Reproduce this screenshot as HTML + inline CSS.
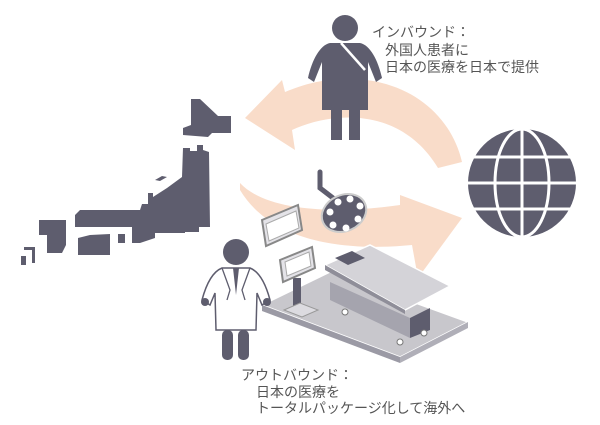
<!DOCTYPE html>
<html><head><meta charset="utf-8"><style>
html,body{margin:0;padding:0;background:#fff;}
.t{font-family:"Liberation Sans","Noto Sans CJK JP",sans-serif;font-size:14px;fill:#555;}
</style></head><body>
<svg width="600" height="420" viewBox="0 0 600 420" xmlns="http://www.w3.org/2000/svg">
<!-- arrows -->
<path d="M462,162 C450,110 400,72 330,80 C310,82 295,88 285,92 L282,80 L245,118 L295,150 L292,130 C330,112 400,105 438,168 Z" fill="#f9dcc9"/>
<path d="M240,183 C265,210 330,215 400,205 L400,195 L462,218 L418,278 L412,245 C340,252 270,240 240,190 Z" fill="#f9dcc9"/>
<!-- Japan -->
<g fill="#5e5d6e">
<polygon points="191,99 200,99 218,116 231,116 231,133 212,133 208,137 183,135 183,128 191,125"/>
<polygon points="183,148 190,148 190,151 197,151 197,145 203,145 203,150 209,152 210,227 199,227 199,232 185,232 185,233 155,233 155,238 140,243 132,243 132,227 75,227 75,215 80,210 140,210 142,204 148,204 148,193 153,193 153,197 167,188 182,177"/>
<polygon points="155,180 162,176 167,177 160,181"/>
<polygon points="39,220 66,220 66,245 62,253 47,253 47,235 39,235"/>
<polygon points="78,238 90,235 110,234 110,255 78,255"/>
<rect x="118" y="234" width="7" height="9"/>
<polygon points="24,247 35,247 35,263 32,263 32,250 24,250"/>
<rect x="21" y="256" width="5" height="9"/>
</g>
<!-- woman -->
<g fill="#5e5d6e">
<circle cx="345" cy="28" r="13"/>
<path d="M330,43 L360,43 C370,45 378,60 382,78 L376,82 L368,62 L368,110 L360,110 L360,140 L349,140 L349,110 L342,110 L342,140 L331,140 L331,110 L322,110 L322,62 L314,82 L308,78 C312,60 320,45 330,43 Z"/>
</g>
<path d="M341,43 L365,70" stroke="#fff" stroke-width="2.5"/>
<!-- globe -->
<g>
<circle cx="522" cy="183" r="54" fill="#5e5d6e"/>
<g stroke="#fff" stroke-width="3" fill="none">
<line x1="522" y1="128" x2="522" y2="238"/>
<ellipse cx="522" cy="183" rx="27" ry="54"/>
<line x1="468" y1="183" x2="576" y2="183"/>
<line x1="474" y1="157" x2="570" y2="157"/>
<line x1="474" y1="209" x2="570" y2="209"/>
</g>
</g>
<!-- platform -->
<polygon points="262,305 330,272 468,322 400,357" fill="#c8c7cc" stroke="#fff" stroke-width="1.5"/>
<polygon points="262,305 400,357 400,363 262,311" fill="#9b9aa5"/>
<polygon points="400,357 468,322 468,328 400,363" fill="#b0afb8"/>
<!-- monitor stand -->
<rect x="293" y="278" width="8" height="32" fill="#5e5d6e"/>
<polygon points="284,310 300,303 318,310 302,317" fill="#dcdbe0" stroke="#999"/>
<polygon points="280,260 312,247 315,268 283,282" fill="#e4e3e8" stroke="#888" stroke-width="2"/>
<polygon points="285,262 309,252 311,266 287,276" fill="#fff" stroke="#aaa"/>
<!-- table -->
<polygon points="330,282 410,318 410,338 330,300" fill="#a5a4ae"/>
<polygon points="410,318 430,308 430,330 410,338" fill="#5e5d6e"/>
<polygon points="325,265 370,245 450,286 405,310" fill="#d4d3d8" stroke="#fff" stroke-width="1.5"/>
<polygon points="325,265 405,310 405,314 325,270" fill="#8f8e99"/>
<polygon points="335,258 352,251 365,258 348,265" fill="#5e5d6e"/>
<circle cx="345" cy="312" r="3" fill="#fff" stroke="#777"/>
<circle cx="400" cy="342" r="3" fill="#fff" stroke="#777"/>
<circle cx="424" cy="333" r="3" fill="#fff" stroke="#777"/>
<!-- wall monitor -->
<polygon points="262,220 298,205 302,230 266,246" fill="#e4e3e8" stroke="#888" stroke-width="2"/>
<polygon points="266,224 296,211 299,228 269,241" fill="#fff" stroke="#aaa"/>
<!-- lamp -->
<path d="M320,172 L320,188 L333,198" stroke="#5e5d6e" stroke-width="5" fill="none" stroke-linecap="round"/>
<ellipse cx="344" cy="213" rx="23" ry="18" transform="rotate(-25 344 213)" fill="#5e5d6e" stroke="#ccc" stroke-width="2"/>
<g fill="#fff">
<circle cx="350" cy="199" r="3.5"/><circle cx="360" cy="206" r="3.5"/><circle cx="358" cy="219" r="3.5"/>
<circle cx="346" cy="228" r="3.5"/><circle cx="333" cy="225" r="3.5"/><circle cx="330" cy="212" r="3.5"/><circle cx="338" cy="202" r="3.5"/>
</g>
<!-- doctor -->
<g>
<circle cx="236" cy="252" r="13" fill="#5e5d6e"/>
<path d="M222,268 L250,268 C260,272 266,285 270,300 L262,305 L257,293 L256,330 L216,330 L215,293 L210,305 L202,300 C206,285 212,272 222,268 Z" fill="#fff" stroke="#5e5d6e" stroke-width="1.5"/>
<path d="M233,268 L236,295 L239,268 Z" fill="#5e5d6e"/>
<path d="M222,268 L230,290 L227,300 M250,268 L242,290 L245,300" stroke="#5e5d6e" stroke-width="1.3" fill="none"/>
<circle cx="205" cy="302" r="4" fill="#5e5d6e"/><circle cx="267" cy="302" r="4" fill="#5e5d6e"/>
<rect x="222" y="330" width="11" height="30" rx="5" fill="#5e5d6e"/>
<rect x="238" y="330" width="11" height="30" rx="5" fill="#5e5d6e"/>
</g>
<!-- text -->
<text class="t" x="372" y="37">インバウンド：</text>
<text class="t" x="385" y="55">外国人患者に</text>
<text class="t" x="385" y="72">日本の医療を日本で提供</text>
<text class="t" x="241" y="380">アウトバウンド：</text>
<text class="t" x="256" y="397">日本の医療を</text>
<text class="t" x="256" y="413">トータルパッケージ化して海外へ</text>
</svg>
</body></html>
